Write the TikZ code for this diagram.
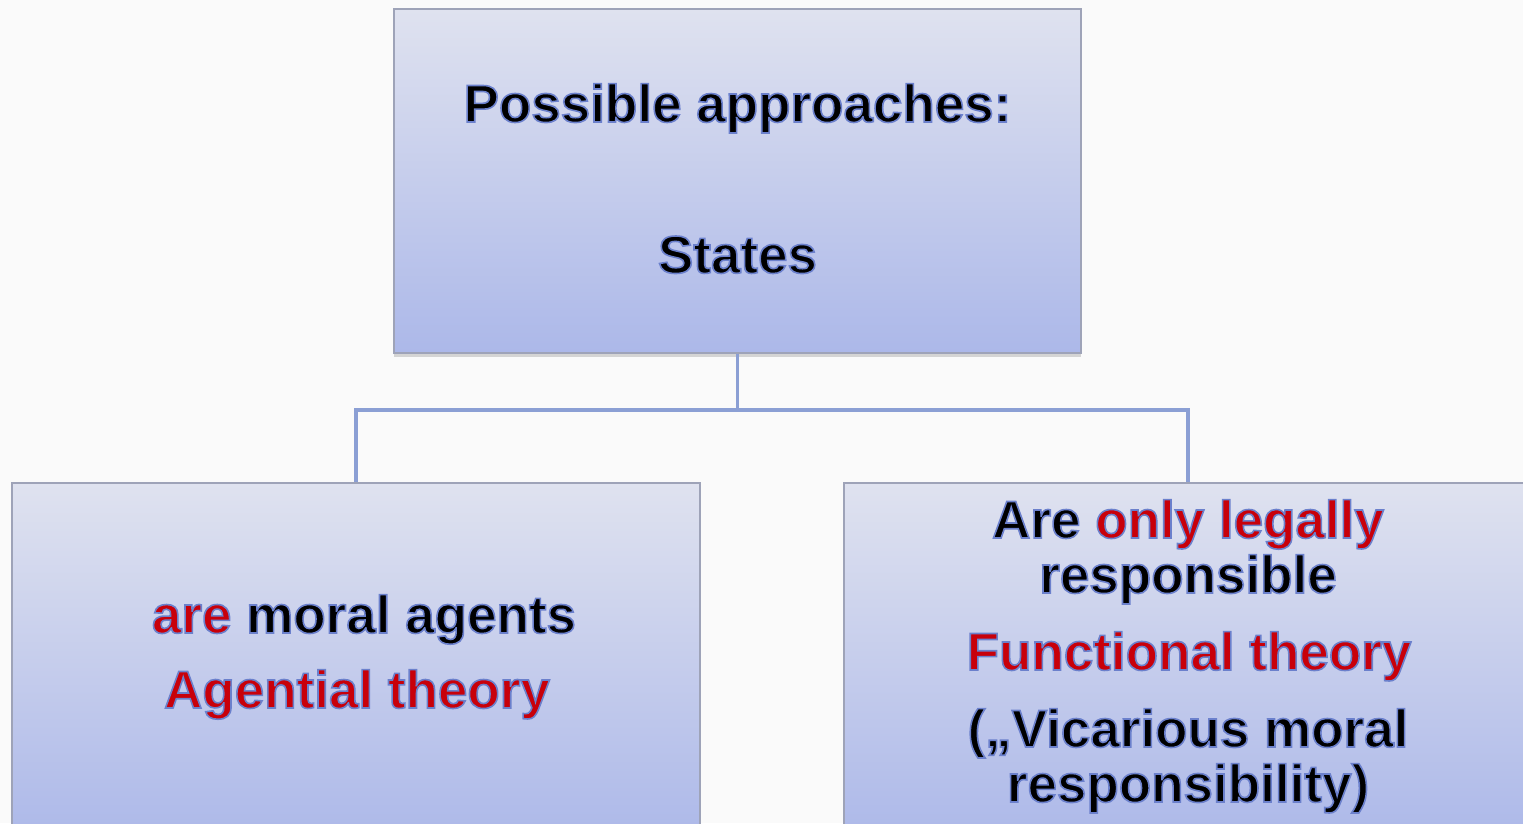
\documentclass[tikz,border=0pt]{standalone}
\usepackage{fontspec}
\setmainfont{Liberation Sans}
\usetikzlibrary{shadows}
\definecolor{bgc}{RGB}{250,250,250}
\definecolor{boxtop}{RGB}{223,226,239}
\definecolor{boxbot}{RGB}{172,184,233}
\definecolor{boxline}{RGB}{158,163,184}
\definecolor{conn}{RGB}{139,159,212}
\definecolor{redt}{RGB}{200,0,10}
\newcommand{\Ol}[1]{\special{pdf:literal direct 2 Tr 0.42 0.5 0.8 RG 1.6 w}#1\special{pdf:literal direct 0 Tr}}
\newcommand{\Bk}[1]{{\color{black}\Ol{#1}}}
\newcommand{\Rd}[1]{{\color{redt}\Ol{#1}}}
\tikzset{
  box/.style={draw=boxline, line width=1.6pt, top color=boxtop, bottom color=boxbot,
    rectangle, inner sep=0pt, drop shadow={shadow xshift=0pt, shadow yshift=-4pt, opacity=0.25, fill=black!60}},
  conline/.style={draw=conn, line width=3.5pt},
  txt/.style={anchor=base, inner sep=0pt, text=black, font=\fontsize{53}{60}\selectfont\bfseries}
}
\begin{document}
\begin{tikzpicture}[x=1pt,y=-1pt]
\fill[bgc] (0,0) rectangle (1523,823);
\useasboundingbox (0,0) rectangle (1523,823);
\begin{scope}
\clip (0,0) rectangle (1523,823);
\node[box, minimum width=687pt, minimum height=344pt] (top) at (737.5,181) {};
\node[box, minimum width=688pt, minimum height=360pt] (left) at (356,663) {};
\node[box, minimum width=688pt, minimum height=360pt] (right) at (1188,663) {};
\coordinate (mid) at (737.5,410);
\draw[conline] (top.south) -- (mid) -| (left.north);
\draw[conline] (mid) -| (right.north);
\node[txt] (t1) at (737.5,122) {\Bk{Possible approaches:}};
\node[txt] (t2) at (737.5,273) {\Bk{States}};
\node[txt] (l1) at (364,633) {\Rd{are} \Bk{moral agents}};
\node[txt] (l2) at (357,708) {\Rd{Agential theory}};
\node[txt] (r1) at (1188,538) {\Bk{Are} \Rd{only legally}};
\node[txt] (r2) at (1188,593) {\Bk{responsible}};
\node[txt] (r3) at (1189,670) {\Rd{Functional theory}};
\node[txt] (r4) at (1188,747) {\Bk{(„Vicarious moral}};
\node[txt] (r5) at (1188,802) {\Bk{responsibility)}};
\end{scope}
\end{tikzpicture}
\end{document}
